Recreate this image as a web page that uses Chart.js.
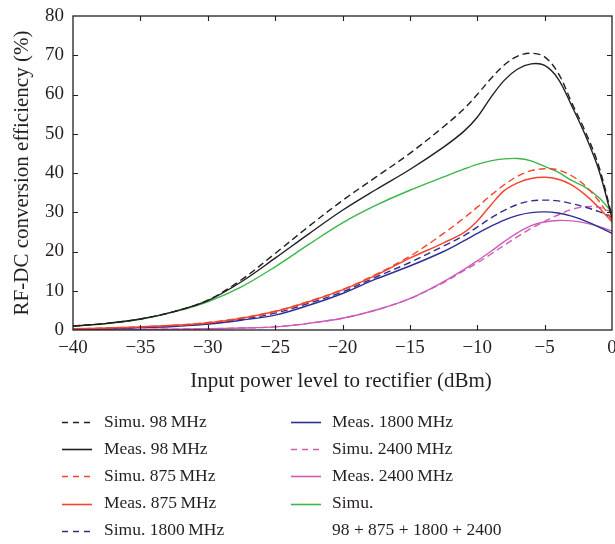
<!DOCTYPE html>
<html>
<head>
<meta charset="utf-8">
<script src="https://cdn.jsdelivr.net/npm/chart.js@4.4.1/dist/chart.umd.min.js"></script>
<style>
  html, body { margin: 0; padding: 0; background: #ffffff; }
  #wrap { width: 615px; height: 544px; }
</style>
</head>
<body>
<div id="wrap"><canvas id="eff" width="615" height="544"></canvas></div>
<script>
// Input power (dBm) sample points shared by every curve
const inputPower = [-40, -37.5, -35, -32.5, -30, -27.5, -25, -22.5, -20, -17.5, -15, -12.5,
                    -11, -10, -9, -8, -7, -6, -5, -4, -3, -2, -1, 0];

// RF-DC conversion efficiency (%) for each band
const simu98   = [1.0, 1.7, 2.8, 4.7, 7.6, 12.8, 19.5, 26.4, 33.0, 39.0, 45.0, 51.8,
                  56.3, 60.0, 64.0, 67.5, 69.8, 70.5, 69.6, 65.5, 58.0, 50.7, 42.0, 29.0];
const meas98   = [1.0, 1.7, 2.8, 4.7, 7.5, 12.3, 18.3, 24.5, 30.5, 35.8, 40.9, 46.6,
                  50.6, 54.2, 59.2, 63.6, 66.5, 67.8, 67.4, 64.0, 57.2, 49.8, 41.0, 28.5];
const simu875  = [0.3, 0.5, 0.8, 1.2, 1.9, 3.1, 4.8, 7.3, 10.3, 14.2, 18.8, 24.6,
                  28.5, 31.3, 34.3, 37.0, 39.2, 40.6, 41.1, 40.8, 39.3, 36.8, 33.0, 28.0];
const meas875  = [0.3, 0.5, 0.8, 1.2, 1.8, 3.0, 4.7, 7.2, 10.2, 14.0, 18.3, 22.2,
                  24.8, 27.8, 31.8, 35.5, 37.5, 38.6, 38.9, 38.4, 37.0, 34.5, 31.3, 27.5];
const simu1800 = [0.2, 0.4, 0.7, 1.0, 1.6, 2.7, 4.3, 6.8, 9.7, 13.5, 17.2, 21.4,
                  24.0, 26.2, 28.5, 30.5, 32.0, 32.9, 33.1, 32.9, 32.2, 31.3, 30.2, 28.8];
const meas1800 = [0.2, 0.3, 0.6, 0.9, 1.5, 2.5, 3.8, 6.3, 9.3, 13.0, 16.3, 20.0,
                  22.7, 24.6, 26.4, 28.0, 29.2, 29.9, 30.1, 29.8, 29.0, 27.8, 26.3, 24.6];
const simu2400 = [0.05, 0.08, 0.15, 0.22, 0.3, 0.5, 0.8, 1.7, 3.0, 5.1, 8.0, 12.1,
                  15.1, 17.1, 19.3, 21.6, 23.8, 25.9, 27.7, 29.3, 30.7, 31.4, 31.3, 30.0];
const meas2400 = [0.05, 0.08, 0.15, 0.22, 0.3, 0.5, 0.8, 1.7, 3.0, 5.1, 8.0, 12.3,
                  15.4, 17.6, 20.0, 22.5, 24.8, 26.6, 27.5, 27.9, 27.8, 27.3, 26.4, 25.2];
const simuSum  = [1.0, 1.6, 2.7, 4.6, 7.2, 11.0, 16.1, 21.8, 27.3, 31.8, 35.6, 39.0,
                  41.0, 42.2, 43.1, 43.6, 43.7, 43.1, 41.7, 40.2, 38.1, 36.4, 33.8, 30.0];

const seriesLabels = [
  'Simu. 98\u2009MHz', 'Meas. 98\u2009MHz',
  'Simu. 875\u2009MHz', 'Meas. 875\u2009MHz',
  'Simu. 1800\u2009MHz', 'Meas. 1800\u2009MHz',
  'Simu. 2400\u2009MHz', 'Meas. 2400\u2009MHz',
  'Simu.\n98 + 875 + 1800 + 2400'
];

const xTickValues = [-40, -35, -30, -25, -20, -15, -10, -5, 0];
const yTickValues = [0, 10, 20, 30, 40, 50, 60, 70, 80];

const INK = '#231f20';
const SERIF = '"Liberation Serif", "DejaVu Serif", serif';
const DASH = [7, 4];

function pts(values) {
  return values.map((v, i) => ({ x: inputPower[i], y: v }));
}

function series(label, values, color, dashed) {
  return {
    label: label,
    data: pts(values),
    borderColor: color,
    backgroundColor: color,
    borderWidth: 1.4,
    borderDash: dashed ? DASH : [],
    pointRadius: 0,
    fill: false,
    tension: 0.35
  };
}

const datasets = [
  series(seriesLabels[0], simu98,   INK,       true),
  series(seriesLabels[1], meas98,   INK,       false),
  series(seriesLabels[2], simu875,  '#f4442a', true),
  series(seriesLabels[3], meas875,  '#f4442a', false),
  series(seriesLabels[4], simu1800, '#2e2f92', true),
  series(seriesLabels[5], meas1800, '#2e2f92', false),
  series(seriesLabels[6], simu2400, '#cf5bb8', true),
  series(seriesLabels[7], meas2400, '#cf5bb8', false),
  series(seriesLabels[8], simuSum,  '#3db54a', false)
];

const fmtMinus = v => (v < 0 ? '\u2212' + Math.abs(v) : String(v));

// Frame, inward tick marks, axis titles and the two-column key
const decorations = {
  id: 'decorations',
  afterDraw(chart) {
    const { ctx, chartArea: a, scales } = chart;
    const xs = scales.x, ys = scales.y;
    ctx.save();
    ctx.strokeStyle = INK;
    ctx.lineWidth = 1.3;
    ctx.setLineDash([]);
    ctx.strokeRect(a.left, a.top, a.right - a.left, a.bottom - a.top);

    const tl = 5;
    ctx.lineWidth = 1.1;
    ctx.beginPath();
    xTickValues.forEach(v => {
      const px = Math.round(xs.getPixelForValue(v)) + 0.5;
      if (px <= a.left + 1 || px >= a.right - 1) return;
      ctx.moveTo(px, a.bottom); ctx.lineTo(px, a.bottom - tl);
      ctx.moveTo(px, a.top);    ctx.lineTo(px, a.top + tl);
    });
    yTickValues.forEach(v => {
      const py = Math.round(ys.getPixelForValue(v)) + 0.5;
      if (py <= a.top + 1 || py >= a.bottom - 1) return;
      ctx.moveTo(a.left, py);  ctx.lineTo(a.left + tl, py);
      ctx.moveTo(a.right, py); ctx.lineTo(a.right - tl, py);
    });
    ctx.stroke();

    // axis titles
    ctx.fillStyle = INK;
    ctx.font = '21px ' + SERIF;
    ctx.textAlign = 'center';
    ctx.textBaseline = 'middle';
    ctx.fillText('Input power level to rectifier (dBm)', 341, a.bottom + 51);
    ctx.save();
    ctx.translate(22, (a.top + a.bottom) / 2);
    ctx.rotate(-Math.PI / 2);
    ctx.fillText('RF-DC conversion efficiency (%)', 0, 0);
    ctx.restore();

    // key: five entries in the first column, four in the second
    const cols = [{ lineX: 62, textX: 104 }, { lineX: 291, textX: 332 }];
    const rowY0 = a.bottom + 92, rowGap = 27.2;
    ctx.font = '17.5px ' + SERIF;
    ctx.textAlign = 'left';
    chart.data.datasets.forEach((ds, i) => {
      const col = i < 5 ? cols[0] : cols[1];
      const row = i < 5 ? i : i - 5;
      const y = rowY0 + row * rowGap;
      ctx.strokeStyle = ds.borderColor;
      ctx.lineWidth = 1.6;
      ctx.setLineDash(ds.borderDash.length ? [6, 5] : []);
      ctx.beginPath();
      ctx.moveTo(col.lineX, Math.round(y) + 0.5);
      ctx.lineTo(col.lineX + 30, Math.round(y) + 0.5);
      ctx.stroke();
      ctx.setLineDash([]);
      ctx.fillStyle = INK;
      ds.label.split('\n').forEach((line, k) => {
        ctx.fillText(line, col.textX, y + k * rowGap);
      });
    });
    ctx.restore();
  }
};

new Chart(document.getElementById('eff'), {
  type: 'line',
  data: { datasets: datasets },
  options: {
    responsive: false,
    animation: false,
    devicePixelRatio: 1,
    layout: { padding: { top: 16, right: 3, bottom: 164, left: 0 } },
    plugins: { legend: { display: false }, tooltip: { enabled: false } },
    scales: {
      x: {
        type: 'linear',
        min: -40, max: 0,
        afterBuildTicks: s => { s.ticks = xTickValues.map(v => ({ value: v })); },
        afterFit: s => { s.height = 50; s.paddingLeft = 0; s.paddingRight = 0; },
        grid: { display: false, drawTicks: false },
        border: { display: false },
        ticks: {
          padding: 7,
          color: INK,
          font: { family: SERIF, size: 19 },
          maxRotation: 0,
          callback: v => fmtMinus(v)
        }
      },
      y: {
        type: 'linear',
        min: 0, max: 80,
        afterBuildTicks: s => { s.ticks = yTickValues.map(v => ({ value: v })); },
        afterFit: s => { s.width = 73; s.paddingTop = 0; s.paddingBottom = 0; },
        grid: { display: false, drawTicks: false },
        border: { display: false },
        ticks: {
          padding: 9,
          color: INK,
          font: { family: SERIF, size: 19 },
          callback: v => String(v)
        }
      }
    }
  },
  plugins: [decorations]
});
</script>
</body>
</html>
